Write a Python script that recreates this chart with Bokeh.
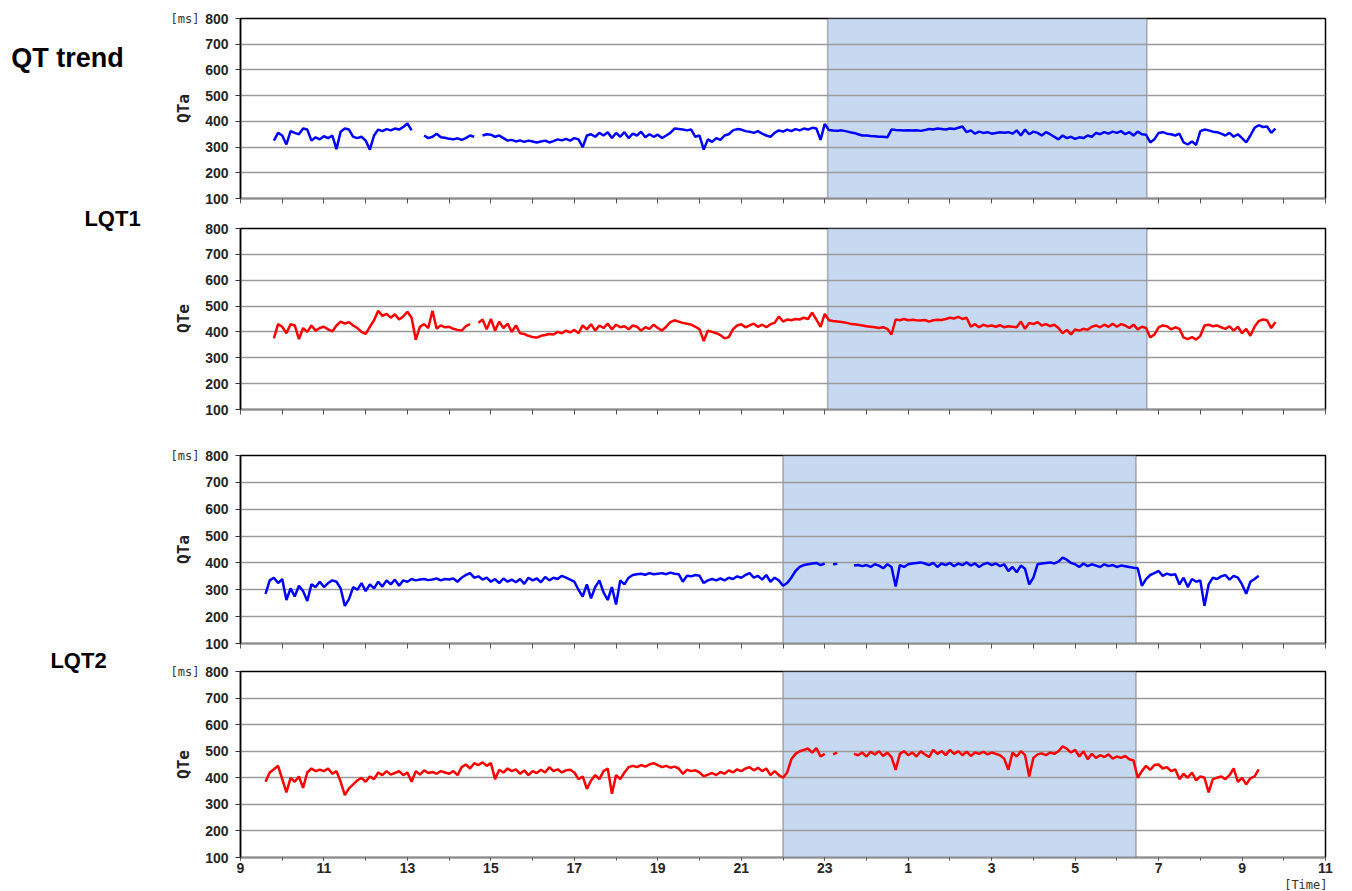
import math
from bokeh.plotting import figure
from bokeh.layouts import column, row
from bokeh.models import Range1d, FixedTicker, BoxAnnotation, Label, Title
from bokeh.embed import file_html
from bokeh.resources import INLINE

N = float("nan")
T0 = 9.0    # hour of first sample in every series
DT = 0.1    # sampling step in hours (6 min)

# ---- data (ms), one row per clock hour, starting 9:00 ----
qt_trend_qta = [
    N, N, N, N, N, N, N, N, 325, 355,
    345, 310, 362, 355, 350, 372, 368, 325, 338, 330,
    342, 335, 345, 292, 360, 372, 368, 340, 335, 340,
    325, 290, 345, 368, 362, 370, 365, 372, 368, 378,
    392, 365, N, N, 345, 335, 340, 352, 338, 336,
    332, 330, 334, 328, 335, 345, 340, N, 345, 350,
    348, 340, 345, 335, 325, 328, 322, 326, 320, 325,
    322, 318, 322, 325, 318, 323, 330, 326, 332, 325,
    335, 330, 300, 345, 350, 340, 355, 345, 358, 335,
    355, 340, 358, 335, 352, 345, 360, 338, 350, 340,
    348, 335, 345, 355, 372, 370, 368, 365, 368, 340,
    345, 290, 330, 320, 335, 328, 345, 350, 365, 370,
    368, 362, 360, 355, 362, 352, 345, 340, 355, 365,
    360, 368, 362, 370, 365, 372, 368, 375, 372, 328,
    390, 366, 364, 363, 365, 362, 358, 355, 350, 345,
    345, 343, 342, 340, 340, 338, 368, 366, 365, 364,
    365, 364, 365, 363, 366, 370, 368, 372, 370, 368,
    372, 370, 375, 380, 358, 365, 352, 360, 355, 358,
    352, 355, 358, 356, 358, 352, 365, 345, 368, 350,
    360, 355, 345, 358, 350, 340, 330, 345, 335, 340,
    332, 338, 335, 345, 340, 355, 350, 358, 352, 360,
    355, 362, 350, 358, 345, 360, 350, 348, 318, 330,
    355, 358, 352, 350, 345, 352, 318, 310, 322, 308,
    362, 368, 365, 360, 358, 352, 345, 355, 340, 350,
    335, 318, 345, 375, 385, 378, 380, 355, 372,
]

lqt1_qte = [
    N, N, N, N, N, N, N, N, 375, 430,
    420, 395, 430, 425, 372, 415, 400, 425, 405, 415,
    420, 410, 402, 425, 440, 432, 438, 425, 415, 400,
    392, 420, 445, 482, 462, 470, 455, 468, 448, 460,
    478, 455, 370, 420, 430, 415, 482, 412, 425, 418,
    420, 412, 408, 405, 422, 430, N, 435, 448, 410,
    450, 405, 440, 415, 432, 400, 425, 395, 392, 385,
    380, 378, 385, 388, 392, 390, 400, 395, 405, 398,
    408, 395, 425, 410, 430, 405, 425, 415, 432, 410,
    428, 418, 422, 410, 425, 420, 405, 418, 412, 428,
    415, 405, 420, 438, 445, 440, 435, 432, 428, 420,
    410, 365, 405, 400, 395, 388, 375, 380, 410, 425,
    430, 418, 425, 432, 420, 428, 418, 430, 435, 460,
    440, 448, 445, 450, 448, 455, 450, 475, 448, 420,
    470, 445, 442, 440, 438, 436, 432, 430, 428, 425,
    422, 420, 418, 415, 418, 412, 390, 448, 445, 450,
    445, 447, 445, 444, 446, 440, 445, 447, 446, 450,
    455, 452, 458, 450, 455, 420, 430, 418, 428, 422,
    425, 420, 426, 418, 422, 420, 418, 440, 412, 435,
    430, 438, 425, 430, 422, 428, 415, 395, 408, 390,
    410, 405, 412, 408, 420, 425, 418, 428, 420, 432,
    420, 430, 425, 415, 428, 410, 420, 415, 378, 390,
    418, 425, 422, 410, 418, 412, 378, 372, 380, 370,
    385, 425, 428, 422, 425, 418, 412, 422, 405, 420,
    395, 412, 385, 420, 442, 448, 445, 415, 438,
]

lqt2_qta = [
    N, N, N, N, N, N, 285, 335, 345, 325,
    340, 262, 305, 275, 315, 295, 258, 320, 310, 330,
    310, 325, 335, 330, 305, 240, 265, 310, 300, 325,
    295, 320, 305, 330, 312, 335, 320, 338, 315, 335,
    330, 340, 335, 338, 340, 336, 338, 342, 335, 340,
    338, 342, 330, 345, 355, 362, 345, 350, 338, 345,
    330, 340, 325, 342, 330, 338, 328, 340, 322, 345,
    335, 342, 328, 348, 335, 345, 340, 352, 345, 338,
    330, 300, 275, 320, 268, 310, 335, 290, 262, 310,
    245, 335, 320, 345, 355, 358, 360, 356, 362, 358,
    360, 362, 358, 364, 360, 358, 330, 352, 350, 355,
    352, 325, 335, 340, 335, 342, 335, 345, 340, 350,
    345, 355, 362, 345, 352, 338, 355, 330, 345, 335,
    315, 325, 345, 370, 385, 392, 395, 398, 400, 392,
    398, N, 395, 397, N, N, N, 390, 392, 388,
    392, 385, 395, 390, 380, 395, 385, 312, 392, 385,
    395, 398, 400, 402, 398, 392, 400, 385, 398, 392,
    400, 388, 398, 392, 402, 390, 398, 385, 395, 400,
    392, 398, 388, 395, 370, 385, 365, 390, 378, 320,
    345, 395, 398, 400, 402, 398, 405, 420, 412, 400,
    395, 385, 398, 388, 395, 390, 385, 395, 388, 392,
    385, 390, 388, 385, 382, 380, 315, 340, 355, 362,
    370, 352, 360, 355, 358, 320, 345, 310, 340, 330,
    335, 240, 320, 345, 340, 350, 355, 338, 352, 345,
    320, 285, 330, 340, 352,
]

lqt2_qte = [
    N, N, N, N, N, N, 385, 420, 432, 445,
    395, 345, 400, 385, 405, 362, 420, 435, 425, 430,
    425, 435, 415, 425, 385, 335, 360, 375, 390, 400,
    385, 405, 395, 420, 410, 425, 412, 418, 425, 410,
    420, 385, 425, 412, 428, 418, 422, 415, 425, 420,
    415, 425, 410, 440, 450, 435, 455, 448, 458, 445,
    455, 395, 430, 420, 435, 425, 432, 415, 428, 410,
    425, 418, 430, 420, 440, 425, 432, 420, 428, 430,
    420, 395, 405, 358, 390, 410, 395, 425, 435, 340,
    410, 395, 420, 440, 445, 440, 448, 442, 450, 455,
    448, 440, 445, 438, 442, 435, 415, 430, 425, 428,
    420, 405, 412, 418, 410, 422, 415, 428, 420, 432,
    425, 435, 440, 428, 438, 425, 435, 410, 425, 410,
    400, 420, 470, 490, 500, 505, 510, 495, 512, 480,
    490, N, 488, 495, N, N, N, 490, 485, 495,
    480, 498, 488, 500, 482, 495, 478, 430, 490, 500,
    485, 495, 480, 500, 488, 478, 505, 490, 500, 485,
    505, 490, 500, 485, 498, 482, 495, 490, 498, 488,
    495, 490, 485, 472, 430, 495, 480, 500, 485, 405,
    475, 488, 492, 485, 495, 490, 500, 518, 510, 495,
    505, 480, 500, 470, 490, 475, 485, 478, 488, 472,
    480, 475, 482, 470, 465, 400, 425, 445, 430, 448,
    450, 435, 440, 425, 432, 395, 415, 400, 420, 390,
    405, 400, 345, 395, 400, 405, 395, 410, 435, 385,
    400, 375, 398, 405, 432,
]

# night (shaded) periods, in hours counted from midnight of day 1
night_lqt1 = [23.07, 30.72]
night_lqt2 = [22.0, 30.46]

hour_ticks = list(range(9, 36))
label_ticks = list(range(9, 36, 2))
tick_labels = ["9", "11", "13", "15", "17", "19", "21", "23", "1", "3", "5", "7", "9", "11"]
y_ticks = [100, 200, 300, 400, 500, 600, 700, 800]

W, H = 1352, 891
STRIP = 201            # width of the left text strip
LEFT, RIGHT = 39, 27   # borders of each panel figure


def panel(vals, color, night, top, fh, bottom, xlabels=False):
    p = figure(width=W - STRIP, height=top + fh + bottom,
               x_range=Range1d(9, 35), y_range=Range1d(100, 800),
               output_backend="svg", toolbar_location=None,
               min_border_left=LEFT, min_border_right=RIGHT,
               min_border_top=top, min_border_bottom=bottom)
    p.outline_line_color = "black"
    p.outline_line_width = 1.5

    p.add_layout(BoxAnnotation(left=night[0], right=night[1],
                               fill_color="#C6D9F1", fill_alpha=1.0,
                               line_color="#333333", line_width=1.8,
                               level="image"))

    ts = [T0 + DT * i for i in range(len(vals))]
    p.line(ts, vals, line_color=color, line_width=2.5)

    p.xgrid.visible = False
    p.ygrid.grid_line_color = "#9a9a9a"
    p.ygrid.grid_line_width = 1.5

    ya = p.yaxis[0]
    ya.ticker = FixedTicker(ticks=y_ticks)
    ya.major_label_text_font = "Liberation Sans"
    ya.major_label_text_font_style = "bold"
    ya.major_label_text_font_size = "14px"
    ya.major_label_text_color = "#262626"
    ya.major_label_standoff = 7
    ya.major_tick_in = 0
    ya.major_tick_out = 5
    ya.major_tick_line_color = "#333333"
    ya.axis_line_color = "black"
    ya.axis_line_width = 1.5

    xa = p.xaxis[0]
    xa.axis_line_color = "#8c8c8c"
    xa.axis_line_width = 1.5
    xa.major_tick_in = 0
    xa.minor_tick_in = 0
    xa.major_tick_line_color = "#555555"
    xa.minor_tick_line_color = "#555555"
    if xlabels:
        xa.ticker = FixedTicker(ticks=label_ticks, minor_ticks=hour_ticks)
        xa.major_label_overrides = dict(zip(label_ticks, tick_labels))
        xa.major_tick_out = 3
        xa.minor_tick_out = 3
        xa.major_label_text_font = "Liberation Sans"
        xa.major_label_text_font_style = "bold"
        xa.major_label_text_font_size = "14px"
        xa.major_label_text_color = "#262626"
        xa.major_label_standoff = 2
    else:
        # hourly tick marks only, no labels
        xa.ticker = FixedTicker(ticks=[], minor_ticks=hour_ticks)
        xa.minor_tick_out = 5
        xa.major_label_standoff = 0
    return p


p1 = panel(qt_trend_qta, "#0000FF", night_lqt1, 18, 180, 12)
p2 = panel(lqt1_qte, "#FF0000", night_lqt1, 18, 181, 16)
p3 = panel(lqt2_qta, "#0000FF", night_lqt2, 30, 188, 14)
p4 = panel(lqt2_qte, "#FF0000", night_lqt2, 14, 187, 33, xlabels=True)
p4.add_layout(Title(text="[Time]", align="right", offset=-2, standoff=0,
                    text_font="DejaVu Sans Mono", text_font_size="12px",
                    text_font_style="normal", text_color="#333333"), "below")

# ---- left text strip (coordinates in page pixels, y downward) ----
s = figure(width=STRIP, height=H, x_range=Range1d(0, STRIP), y_range=Range1d(H, 0),
           output_backend="svg", toolbar_location=None,
           x_axis_type=None, y_axis_type=None,
           min_border_left=0, min_border_right=0, min_border_top=0, min_border_bottom=0)
s.outline_line_color = None
s.grid.visible = False


def txt(text, x, y, size, font="Liberation Sans", style="bold", align="center", angle=0.0,
        color="black"):
    s.add_layout(Label(x=x, y=y, text=text, text_align=align, text_baseline="middle",
                       text_font=font, text_font_style=style, text_font_size=size,
                       text_color=color, angle=angle))


txt("QT trend", 67, 57, "27px")
txt("LQT1", 112, 218, "22px")
txt("LQT2", 78, 660, "22px")
for yc, lab in [(108, "QTa"), (318, "QTe"), (549, "QTa"), (764, "QTe")]:
    txt(lab, 183, yc, "16px", font="DejaVu Sans Mono", angle=math.pi / 2, color="#222222")
for yc in [18, 455, 671]:
    txt("[ms]", 199, yc, "12px", font="DejaVu Sans Mono", style="normal", align="right",
        color="#333333")

layout = row(s, column(p1, p2, p3, p4, spacing=0), spacing=0)
open("out.html", "w").write(file_html(layout, INLINE))
